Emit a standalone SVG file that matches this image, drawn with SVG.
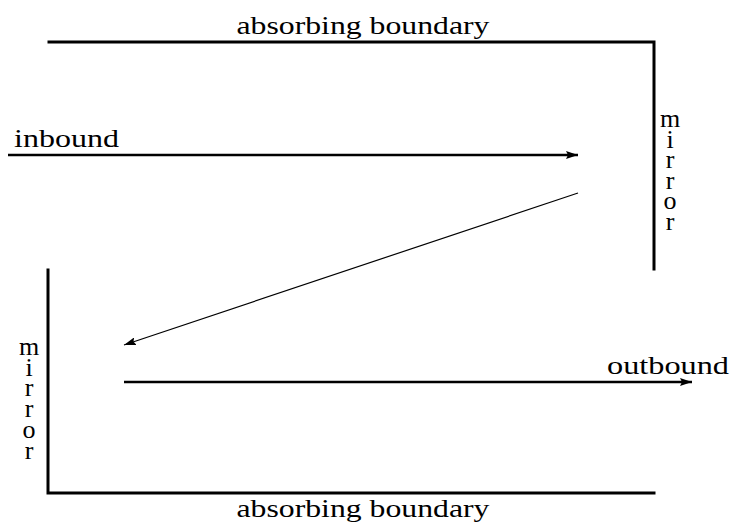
<svg xmlns="http://www.w3.org/2000/svg" width="734" height="527" viewBox="0 0 734 527">
<style>
text{font-family:"Liberation Serif","Times New Roman",serif;font-size:26px;fill:#000}
.wall{fill:none;stroke:#000;stroke-width:3;stroke-linecap:square}
.ray{fill:none;stroke:#000;stroke-width:2.5}
.thin{fill:none;stroke:#000;stroke-width:1.2}
.mir{text-anchor:middle}
</style>
<defs>
<marker id="ah" viewBox="0 0 12 8" refX="12" refY="4" markerUnits="userSpaceOnUse" markerWidth="12" markerHeight="8" orient="auto">
<path d="M0,0 L12,4 L0,8 L2,4 Z" fill="#000"/>
</marker>
</defs>
<rect width="734" height="527" fill="#fff"/>
<g id="top-boundary">
<path class="wall" d="M49,42 H654 V269"/>
<text x="363" y="34" text-anchor="middle" textLength="253" lengthAdjust="spacingAndGlyphs">absorbing boundary</text>
</g>
<g id="right-mirror">
<text class="mir"><tspan x="670" y="127">m</tspan><tspan x="670" y="148">i</tspan><tspan x="670" y="168">r</tspan><tspan x="670" y="189">r</tspan><tspan x="670" y="209">o</tspan><tspan x="670" y="230">r</tspan></text>
</g>
<g id="bottom-boundary">
<path class="wall" d="M48,270 V493 H654"/>
<text x="363" y="517" text-anchor="middle" textLength="253" lengthAdjust="spacingAndGlyphs">absorbing boundary</text>
</g>
<g id="left-mirror">
<text class="mir"><tspan x="29" y="355">m</tspan><tspan x="29" y="376">i</tspan><tspan x="29" y="396">r</tspan><tspan x="29" y="417">r</tspan><tspan x="29" y="438">o</tspan><tspan x="29" y="459">r</tspan></text>
</g>
<g id="inbound-label">
<text x="14" y="147" textLength="105" lengthAdjust="spacingAndGlyphs">inbound</text>
</g>
<g id="outbound-label">
<text x="607" y="374" textLength="122" lengthAdjust="spacingAndGlyphs">outbound</text>
</g>
<g id="connectors">
<line class="ray" x1="8" y1="155" x2="578" y2="155" marker-end="url(#ah)"/>
<line class="thin" x1="578" y1="193" x2="124" y2="345" marker-end="url(#ah)"/>
<line class="ray" x1="124" y1="382" x2="692" y2="382" marker-end="url(#ah)"/>
</g>
</svg>
